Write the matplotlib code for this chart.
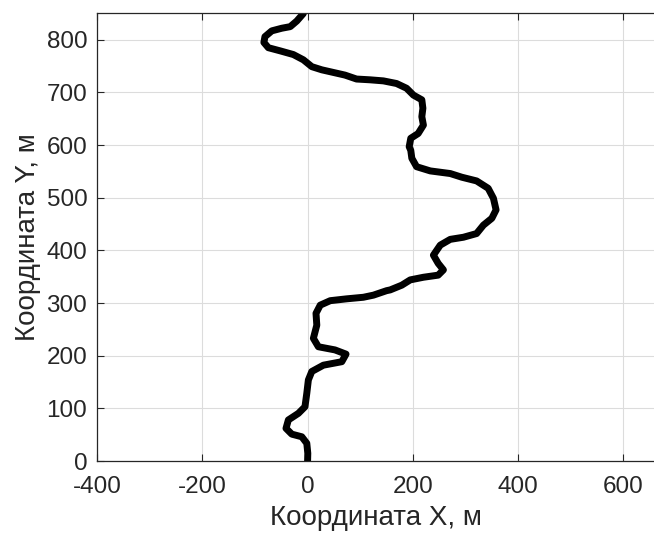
import matplotlib
matplotlib.use("Agg")
import matplotlib.pyplot as plt

plt.rcParams['font.family'] = ['Liberation Sans', 'DejaVu Sans']
plt.rcParams['axes.unicode_minus'] = False

# Path coordinates (m), bottom to top
x_vals = [0, 0.4, -1.5, -11, -30, -41, -36.5, -17.5, -5, -1.5, 1.5, 8, 30, 65, 73, 52,
          20.5, 11, 17.5, 16, 24, 43, 74, 106, 125, 150, 157, 179, 195, 220, 248,
          258, 248, 239, 252, 271, 296, 321, 334, 350, 358, 353, 343, 321, 293,
          271, 233, 207, 198, 196, 193, 196, 210, 220, 217, 219, 217, 201, 188,
          169, 144, 119, 93, 71, 49, 27, 8, -8, -27, -52, -74.5, -83, -81, -68,
          -49, -33, -20.5, -8]
y_vals = [0, 14.6, 33.6, 46, 51, 62, 78, 90.5, 103, 128.6, 154, 170, 182, 188.6, 203, 211,
          217, 233, 258, 280.5, 296, 304.5, 308, 311, 315, 323.5, 325, 334, 344, 349, 353,
          363, 375.5, 391, 410, 421, 425, 432, 448, 461, 477, 499, 518, 532, 539,
          546, 551, 559, 575, 590, 597, 613, 622, 638, 654, 670, 686, 695, 708,
          717, 722, 724, 725.5, 733, 738, 743, 749, 762, 772, 779, 785, 795, 806, 817,
          822, 825, 835.7, 850]

x_ticks = [-400, -200, 0, 200, 400, 600]
y_ticks = [0, 100, 200, 300, 400, 500, 600, 700, 800]

fig = plt.figure(figsize=(6.54, 5.34), dpi=100)
ax = fig.add_axes([97/654, 73/534, 1 - 97/654, (461 - 12.7)/534])

ax.plot(x_vals, y_vals, color='black', linewidth=5, solid_joinstyle='round',
        solid_capstyle='round')

ax.set_xlim(-400, 658)
ax.set_ylim(0, 851.5)
ax.set_xticks(x_ticks)
ax.set_yticks(y_ticks)
ax.grid(True, color='#dcdcdc', linewidth=0.8)
ax.set_axisbelow(True)

ax.tick_params(direction='in', length=5, width=0.8, colors='#262626',
               labelsize=17.5, top=True, right=False)
ax.tick_params(axis='x', pad=11)
ax.tick_params(axis='y', pad=7)
for s in ['left', 'bottom', 'top']:
    ax.spines[s].set_color('#262626')
    ax.spines[s].set_linewidth(0.9)
ax.spines['right'].set_visible(False)

ax.set_xlabel('Координата X, м', fontsize=20, color='#262626', labelpad=5)
ax.set_ylabel('Координата Y, м', fontsize=20, color='#262626', labelpad=4)

fig.savefig('out.png', dpi=100)
